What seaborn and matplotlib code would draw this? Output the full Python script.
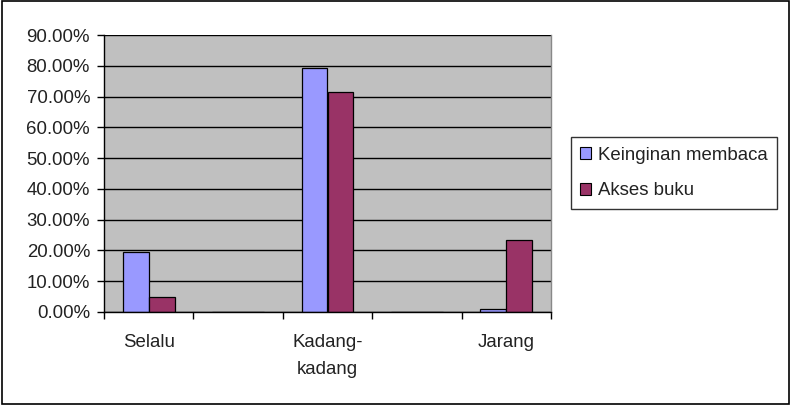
import matplotlib
matplotlib.use("Agg")
import matplotlib.pyplot as plt
import seaborn as sns
import pandas as pd
from matplotlib.patches import Rectangle
from matplotlib.ticker import FuncFormatter, FixedLocator

categories = ["Selalu", "gap1", "Kadang-\nkadang", "gap2", "Jarang"]
tick_labels = ["Selalu", "", "Kadang-\nkadang", "", "Jarang"]
series_names = ["Keinginan membaca", "Akses buku"]
keinginan = [19.6, 0.0, 79.4, 0.0, 1.0]
akses = [4.9, 0.0, 71.6, 0.0, 23.5]
colors = ["#9999FF", "#993366"]

rows = []
for c, k, a in zip(categories, keinginan, akses):
    rows.append({"cat": c, "series": series_names[0], "val": k})
    rows.append({"cat": c, "series": series_names[1], "val": a})
df = pd.DataFrame(rows)

sns.set_theme(style="white")
plt.rcParams["font.family"] = ["Liberation Sans", "DejaVu Sans"]

FS = 13.4
fig = plt.figure(figsize=(7.98, 4.07), dpi=100)
ax = fig.add_axes([104/798, 1-312/407, (551-104)/798, (312-35)/407])

sns.barplot(data=df, x="cat", y="val", hue="series", order=categories,
            hue_order=series_names, palette=colors, width=0.58,
            edgecolor="black", linewidth=0.9, saturation=1, ax=ax, legend=True)

ax.set_facecolor("#C0C0C0")
ax.set_ylim(0, 90)
ax.set_xlim(-0.5, len(categories) - 0.5)
ax.set_yticks([i * 10 for i in range(10)])
ax.yaxis.set_major_formatter(FuncFormatter(lambda v, p: f"{v:.2f}%"))
ax.grid(axis="y", color="black", linewidth=1.0)
ax.set_axisbelow(True)
ax.set_xlabel("")
ax.set_ylabel("")

ax.set_xticks(range(len(categories)))
ax.set_xticklabels(tick_labels, fontsize=FS, color="#222222", linespacing=1.75, va="top")
ax.xaxis.set_minor_locator(FixedLocator([i - 0.5 for i in range(len(categories) + 1)]))
ax.tick_params(axis="x", which="major", length=0, pad=16)
ax.tick_params(axis="x", which="minor", length=5, width=1, color="black", direction="out", bottom=True)
ax.tick_params(axis="y", length=5, width=1, color="black", direction="out", left=True,
               labelsize=FS, labelcolor="#222222", pad=5)

ax.spines["top"].set_visible(False)
for side in ["left", "bottom"]:
    ax.spines[side].set_color("black")
    ax.spines[side].set_linewidth(1.0)
ax.spines["right"].set_color("#888888")
ax.spines["right"].set_linewidth(1.0)

leg = ax.legend(loc="center left", bbox_to_anchor=(571/798, 1-173/407),
                bbox_transform=fig.transFigure, frameon=True, fancybox=False,
                fontsize=FS, handlelength=0.6, handleheight=0.6, handletextpad=0.35,
                labelspacing=1.0, borderpad=0.5, borderaxespad=0)
leg.get_frame().set_edgecolor("black")
leg.get_frame().set_linewidth(1.0)
for t in leg.get_texts():
    t.set_color("#222222")
for h in leg.legend_handles:
    h.set_edgecolor("black")
    h.set_linewidth(0.8)

fig.patches.append(Rectangle((2/798, 3/407), 787/798, 403/407, transform=fig.transFigure,
                             fill=False, edgecolor="black", linewidth=1.2))

fig.savefig("out.png", dpi=100)
